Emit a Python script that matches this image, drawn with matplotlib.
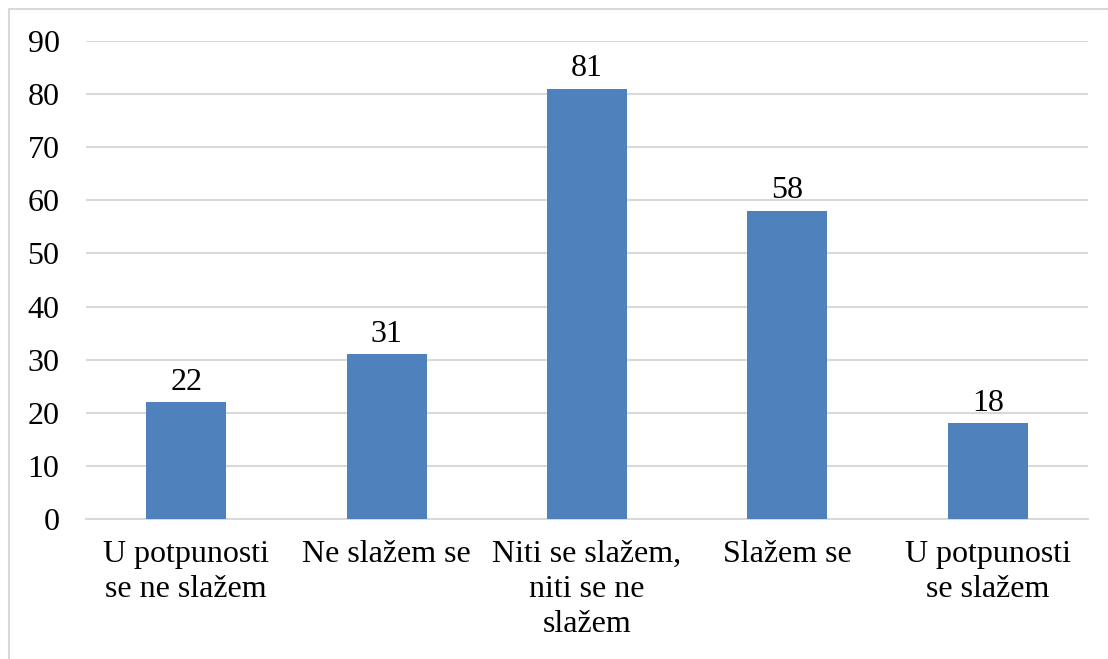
import matplotlib
matplotlib.use("Agg")
import matplotlib.pyplot as plt
from matplotlib.patches import Rectangle

# Data
categories = [
    "U potpunosti\nse ne slažem",
    "Ne slažem se",
    "Niti se slažem,\nniti se ne\nslažem",
    "Slažem se",
    "U potpunosti\nse slažem",
]
values = [22, 31, 81, 58, 18]
yticks = list(range(0, 91, 10))

BAR_COLOR = "#4F81BD"
GRID_COLOR = "#D9D9D9"
FS = 23

plt.rcParams["font.family"] = ["Liberation Serif", "DejaVu Serif"]

fig = plt.figure(figsize=(11.08, 6.59), dpi=100)
ax = fig.add_axes([86 / 1108, 1 - 519 / 659, 1002 / 1108, 478 / 659])

x = list(range(len(categories)))
bars = ax.bar(x, values, width=0.4, color=BAR_COLOR, zorder=3)

for xi, v in zip(x, values):
    ax.annotate(str(v), (xi, v), xytext=(0, 4), textcoords="offset points",
                ha="center", va="bottom", fontsize=FS)

ax.set_xlim(-0.5, len(categories) - 0.5)
ax.set_ylim(0, 90)
ax.set_yticks(yticks)
ax.set_xticks(x)
ax.set_xticklabels(categories, fontsize=FS, linespacing=1.27)
ax.tick_params(axis="y", labelsize=FS, length=0, pad=19)
ax.tick_params(axis="x", length=0, pad=15)
ax.grid(axis="y", color=GRID_COLOR, linewidth=1.5, zorder=0)
for s in ["top", "right", "left"]:
    ax.spines[s].set_visible(False)
ax.spines["bottom"].set_color(GRID_COLOR)
ax.spines["bottom"].set_linewidth(1.5)

# outer chart border
fig.patches.append(Rectangle((9 / 1108, -0.05), 1.1, 0.05 + 1 - 9 / 659,
                             transform=fig.transFigure, fill=False,
                             edgecolor=GRID_COLOR, linewidth=1.5))

fig.savefig("out.png", dpi=100)
